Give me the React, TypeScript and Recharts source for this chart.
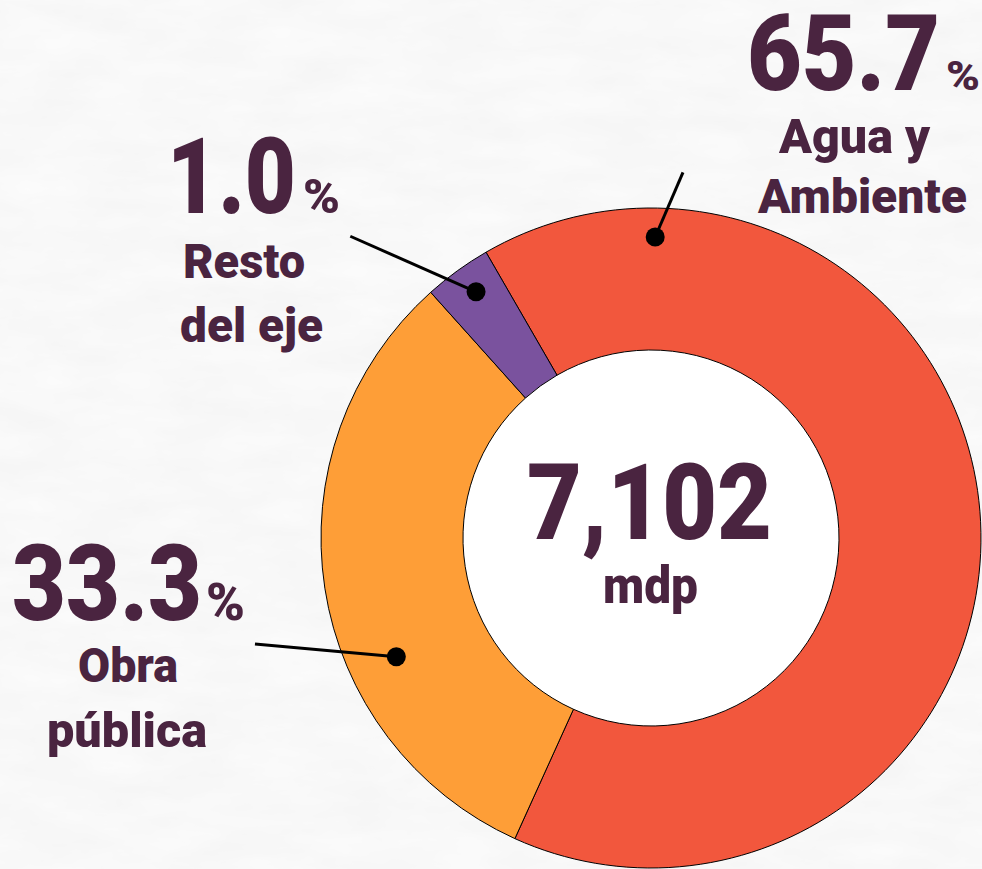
import React from 'react';
import { PieChart, Pie, Cell } from 'recharts';

// ---- data ----
const categories = ['Agua y Ambiente', 'Obra pública', 'Resto del eje'];
const shareLabels = ['65.7', '33.3', '1.0'];
// slice sizes as drawn in the picture (the small slice is drawn larger than its share)
const drawnShares = [65.1, 31.6, 3.3];
const nameLines = [['Agua y', 'Ambiente'], ['Obra', 'pública'], ['Resto', 'del eje']];
const centerValue = '7,102';
const centerUnit = 'mdp';

// ---- style / layout ----
const colors = ['#F2573D', '#FE9E37', '#7A529E'];
const TEXT = '#4A2440';
const FONT = "Roboto, 'DejaVu Sans Condensed', sans-serif";
const W = 982;
const H = 869;
const CX = 651;
const CY = 538;

const data = categories.map((name, i) => ({ name, value: drawnShares[i], label: shareLabels[i] }));
const innerData = [{ name: 'total', value: 1 }];

type Part = { dx: number; dy: number; len: number; size: number };
type Layout = {
  dot: [number, number];
  end: [number, number];
  num: Part;
  pct: Part;
  lines: Part[];
};

const layouts: Layout[] = [
  {
    dot: [89.2, 301],
    end: [85, 367],
    num: { dx: 96, dy: -448, len: 193, size: 106 },
    pct: { dx: 295, dy: -448, len: 34, size: 40 },
    lines: [
      { dx: 128, dy: -385, len: 151, size: 48 },
      { dx: 107, dy: -325, len: 209, size: 48 },
    ],
  },
  {
    dot: [205, 281],
    end: [195, 410],
    num: { dx: -639, dy: 82, len: 190, size: 106 },
    pct: { dx: -445, dy: 82, len: 39, size: 52 },
    lines: [
      { dx: -573, dy: 144, len: 100, size: 48 },
      { dx: -604, dy: 209, len: 160, size: 48 },
    ],
  },
  {
    dot: [125.4, 302],
    end: [134.9, 426],
    num: { dx: -484, dy: -325, len: 129, size: 106 },
    pct: { dx: -348, dy: -325, len: 37, size: 48 },
    lines: [
      { dx: -468, dy: -260, len: 122, size: 48 },
      { dx: -471, dy: -196, len: 143, size: 48 },
    ],
  },
];

const polar = (cx: number, cy: number, angle: number, r: number) => {
  const a = (angle * Math.PI) / 180;
  return { x: cx + r * Math.cos(a), y: cy - r * Math.sin(a) };
};

const T = ({ x, y, len, size, children }: any) => (
  <text
    x={x}
    y={y}
    textLength={len}
    lengthAdjust="spacingAndGlyphs"
    textAnchor="start"
    fontFamily={FONT}
    fontWeight={900}
    fontSize={size}
    fill={TEXT}
  >
    {children}
  </text>
);

const renderLabel = (props: any) => {
  const i = props.index;
  const cx = typeof props.cx === 'number' ? props.cx : CX;
  const cy = typeof props.cy === 'number' ? props.cy : CY;
  const L = layouts[i];
  const dot = polar(cx, cy, L.dot[0], L.dot[1]);
  const end = polar(cx, cy, L.end[0], L.end[1]);
  return (
    <g key={`lbl-${i}`}>
      <line x1={end.x} y1={end.y} x2={dot.x} y2={dot.y} stroke="#000" strokeWidth={3} />
      <circle cx={dot.x} cy={dot.y} r={9.5} fill="#000" />
      <T x={cx + L.num.dx} y={cy + L.num.dy} len={L.num.len} size={L.num.size}>
        {shareLabels[i]}
      </T>
      <T x={cx + L.pct.dx} y={cy + L.pct.dy} len={L.pct.len} size={L.pct.size}>
        %
      </T>
      {nameLines[i].map((t, k) => (
        <T key={k} x={cx + L.lines[k].dx} y={cy + L.lines[k].dy} len={L.lines[k].len} size={L.lines[k].size}>
          {t}
        </T>
      ))}
    </g>
  );
};

const renderCenter = (props: any) => {
  const cx = typeof props.cx === 'number' ? props.cx : CX;
  const cy = typeof props.cy === 'number' ? props.cy : CY;
  return (
    <g key="center">
      <T x={cx - 124} y={cy + 1} len={245} size={106}>
        {centerValue}
      </T>
      <T x={cx - 48} y={cy + 65} len={95} size={52}>
        {centerUnit}
      </T>
    </g>
  );
};

export default function App() {
  return (
    <div
      style={{
        position: 'absolute',
        left: 0,
        top: 0,
        width: W,
        height: H,
        background: '#efefef',
        overflow: 'hidden',
      }}
    >
      <svg width={W} height={H} style={{ position: 'absolute', left: 0, top: 0 }}>
        <defs>
          <filter id="paper" x="0" y="0" width="100%" height="100%">
            <feTurbulence type="fractalNoise" baseFrequency="0.012 0.035" numOctaves={4} seed={3} />
            <feColorMatrix
              type="matrix"
              values="0.07 0 0 0 0.905  0.07 0 0 0 0.905  0.07 0 0 0 0.905  0 0 0 0 1"
            />
          </filter>
        </defs>
        <rect x={0} y={0} width={W} height={H} filter="url(#paper)" />
      </svg>
      <div style={{ position: 'absolute', left: 0, top: 0 }}>
        <PieChart width={W} height={H} margin={{ top: 0, right: 0, bottom: 0, left: 0 }}>
          <Pie
            data={innerData}
            dataKey="value"
            cx={CX}
            cy={CY}
            innerRadius={0}
            outerRadius={188}
            startAngle={90}
            endAngle={-270}
            fill="#ffffff"
            stroke="none"
            label={renderCenter}
            labelLine={false}
            isAnimationActive={false}
          />
          <Pie
            data={data}
            dataKey="value"
            nameKey="name"
            cx={CX}
            cy={CY}
            innerRadius={188}
            outerRadius={330}
            startAngle={120}
            endAngle={-240}
            stroke="#000"
            strokeWidth={1}
            label={renderLabel}
            labelLine={false}
            isAnimationActive={false}
          >
            {data.map((d, i) => (
              <Cell key={d.name} fill={colors[i]} />
            ))}
          </Pie>
        </PieChart>
      </div>
    </div>
  );
}
